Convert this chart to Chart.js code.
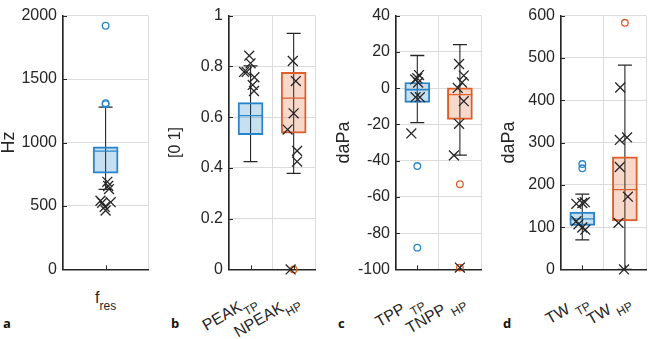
<!DOCTYPE html>
<html>
<head>
<meta charset="utf-8">
<script src="https://cdn.jsdelivr.net/npm/chart.js@4.4.1/dist/chart.umd.min.js"></script>
<style>
  body { margin: 0; background: #fff; width: 661px; height: 339px; overflow: hidden; position: relative;
         font-family: "Liberation Sans", Arial, sans-serif; color: #262626; }
  canvas { position: absolute; top: 0; }
  .xl { position: absolute; font-size: 16px; line-height: 16px; white-space: nowrap; }
  .xl sub { font-size: 12px; vertical-align: -7px; line-height: 0; }
  .rot { transform-origin: 100% 0; transform: rotate(-30deg); }
  .tag { position: absolute; top: 314px; font: bold 13px "Open Sans", sans-serif; color: #111; }
</style>
</head>
<body>
<canvas id="pa" width="162" height="285"></canvas>
<canvas id="pb" width="164" height="285"></canvas>
<canvas id="pc" width="165" height="285"></canvas>
<canvas id="pd" width="165" height="285"></canvas>
<div class="tag" style="left:3px">a</div>
<div class="tag" style="left:171px">b</div>
<div class="tag" style="left:338px">c</div>
<div class="tag" style="left:503px">d</div>

<script>
// a: resonance frequency
const aNames = [['f', 'res']];
const aLow = [630], aQ1 = [758], aMed = [932], aQ3 = [966], aHigh = [1278];
const aOutliers = [[1, 1920], [1, 1310], [1, 1302]];
const aPoints = [[1.02, 690], [1.03, 657], [1.04, 633], [0.94, 541], [0.96, 525],
                 [1.06, 530], [0.99, 493], [1.0, 464]];
const aTicks = [0, 500, 1000, 1500, 2000];

// b: peak values
const bNames = [['PEAK', 'TP'], ['NPEAK', 'HP']];
const bLow = [0.425, 0.378], bQ1 = [0.531, 0.537], bMed = [0.606, 0.675], bQ3 = [0.657, 0.776], bHigh = [0.802, 0.930];
const bOutliers = [[2, 0]];
const bPoints = [[0.97, 0.842], [1.0, 0.812], [0.85, 0.778], [0.91, 0.778], [1.09, 0.757], [1.05, 0.727], [1.08, 0.703],
                 [1.98, 0.821], [2.05, 0.742], [2.0, 0.615], [1.86, 0.551], [2.08, 0.467], [2.08, 0.425], [1.93, 0]];
const bTicks = [0, 0.2, 0.4, 0.6, 0.8, 1];

// c: peak pressure
const cNames = [['TPP ', 'TP'], ['TNPP ', 'HP']];
const cLow = [-19, -37], cQ1 = [-7.9, -17.2], cMed = [-0.9, -3.6], cQ3 = [3.1, 0.1], cHigh = [18, 24];
const cOutliers = [[1, -43], [1, -88], [2, -53], [2, -99]];
const cPoints = [[1.04, 7.2], [1.0, 5.5], [0.95, 4.8], [1.02, 3.1], [0.96, -5], [1.06, -5], [0.86, -25],
                 [1.98, 13.3], [2.09, 6.9], [2.05, 3.1], [1.95, 0.1], [2.09, -7.2], [1.98, -19.7], [1.86, -37.1], [2.0, -99]];
const cTicks = [-100, -80, -60, -40, -20, 0, 20, 40];

// d: tympanometric width
const dNames = [['TW ', 'TP'], ['TW ', 'HP']];
const dLow = [70, 0], dQ1 = [104, 114.5], dMed = [119.5, 188.5], dQ3 = [135.5, 266], dHigh = [178, 483];
const dOutliers = [[1, 249], [1, 239], [2, 583]];
const dPoints = [[0.86, 155], [1.0, 157], [1.06, 159], [0.86, 114], [0.91, 106.5], [1.0, 99], [1.07, 94],
                 [1.89, 430], [2.05, 312], [1.88, 306], [1.88, 242], [2.07, 172], [1.85, 110], [1.98, 0]];
const dTicks = [0, 100, 200, 300, 400, 500, 600];

const INK = '#262626';
const GRID = '#dcdcdc';
const FONT = '"Liberation Sans", Arial, sans-serif';
const EDGE = ['#2a86cc', '#de5f2a'];
const FILL = ['rgba(0,114,189,0.22)', 'rgba(217,83,25,0.22)'];

// small inward tick marks like the original axes
const inwardTicks = {
    id: 'inwardTicks',
    afterDraw(chart) {
        const ctx = chart.ctx, area = chart.chartArea;
        const x = chart.scales.x, y = chart.scales.y;
        ctx.save();
        ctx.strokeStyle = INK;
        ctx.lineWidth = 1;
        ctx.beginPath();
        y.ticks.forEach(t => {
            const py = Math.round(y.getPixelForValue(t.value)) + 0.5;
            ctx.moveTo(area.left, py);
            ctx.lineTo(area.left + 4, py);
        });
        x.ticks.forEach(t => {
            const px = Math.round(x.getPixelForValue(t.value)) + 0.5;
            ctx.moveTo(px, area.bottom);
            ctx.lineTo(px, area.bottom - 4);
        });
        ctx.stroke();
        ctx.restore();
    }
};

function drawPanel(p) {
    const n = p.names.length;
    const canvas = document.getElementById(p.id);
    canvas.style.left = p.left + 'px';
    const padLeft = Math.max(0, p.titleX - p.titleSize / 2 - p.left);

    const whiskers = p.low.map((v, i) => ({
        type: 'line',
        data: [{ x: i + 1, y: v }, { x: i + 1, y: p.high[i] }],
        borderColor: INK,
        borderWidth: 1.1,
        pointStyle: 'line',
        pointRadius: 7,
        pointBorderColor: INK,
        pointBorderWidth: 1.3,
        order: 5
    }));

    const chart = new Chart(canvas, {
        type: 'bar',
        data: {
            datasets: [
                {
                    type: 'scatter',
                    data: p.points.map(q => ({ x: q[0], y: q[1] })),
                    pointStyle: 'crossRot',
                    pointRadius: 7,
                    pointBorderColor: INK,
                    pointBorderWidth: 1.3,
                    clip: false,
                    order: 1
                },
                {
                    type: 'scatter',
                    data: p.outliers.map(q => ({ x: q[0], y: q[1] })),
                    pointStyle: 'circle',
                    pointRadius: 3.3,
                    pointBorderColor: p.outliers.map(q => EDGE[Math.round(q[0]) - 1]),
                    pointBackgroundColor: 'rgba(0,0,0,0)',
                    pointBorderWidth: 1.3,
                    clip: false,
                    order: 2
                },
                {
                    type: 'scatter',
                    data: p.med.map((v, i) => ({ x: i + 1, y: v })),
                    pointStyle: 'line',
                    pointRadius: 12.5,
                    pointBorderColor: EDGE,
                    pointBorderWidth: 1.3,
                    order: 3
                },
                {
                    type: 'bar',
                    data: p.q1.map((v, i) => ({ x: i + 1, y: [v, p.q3[i]] })),
                    backgroundColor: FILL,
                    borderColor: EDGE,
                    borderWidth: 1.3,
                    borderSkipped: false,
                    barThickness: 25,
                    order: 4
                },
                ...whiskers
            ]
        },
        options: {
            responsive: false,
            animation: false,
            devicePixelRatio: 1,
            layout: { padding: { left: padLeft, top: 8, right: 2, bottom: 1 } },
            plugins: { legend: { display: false }, tooltip: { enabled: false } },
            scales: {
                x: {
                    type: 'linear',
                    min: 0.5,
                    max: n + 0.5,
                    offset: false,
                    afterBuildTicks: s => { s.ticks = p.names.map((_, i) => ({ value: i + 1 })); },
                    afterFit: s => { s.height = 0; },
                    grid: { color: GRID, lineWidth: 1, drawTicks: false },
                    border: { color: INK, width: 1.6 },
                    ticks: { display: false }
                },
                y: {
                    min: p.ticks[0],
                    max: p.ticks[p.ticks.length - 1],
                    afterBuildTicks: s => { s.ticks = p.ticks.map(v => ({ value: v })); },
                    afterFit: s => { s.width = p.axisX - p.left - padLeft; },
                    grid: { color: GRID, lineWidth: 1, drawTicks: false },
                    border: { color: INK, width: 1.6 },
                    ticks: { color: INK, font: { family: FONT, size: 16 }, padding: 6, callback: v => String(v) },
                    title: { display: true, text: p.title, color: INK,
                             font: { family: FONT, size: p.titleSize, lineHeight: 1 }, padding: 0 }
                }
            }
        },
        plugins: [inwardTicks]
    });

    // category labels with subscripts, placed from the x scale
    p.names.forEach((nm, i) => {
        const px = p.left + chart.scales.x.getPixelForValue(i + 1);
        const div = document.createElement('div');
        div.className = 'xl';
        div.innerHTML = nm[0] + '<sub>' + nm[1] + '</sub>';
        document.body.appendChild(div);
        if (p.rotate) {
            div.classList.add('rot');
            div.style.right = (661 - px + 1) + 'px';
            div.style.top = '291px';
        } else {
            div.style.left = (px - div.offsetWidth / 2) + 'px';
            div.style.top = '290px';
        }
    });
}

drawPanel({ id: 'pa', left: 0, axisX: 63, titleX: 8, title: 'Hz', titleSize: 18, rotate: false,
            names: aNames, low: aLow, q1: aQ1, med: aMed, q3: aQ3, high: aHigh,
            outliers: aOutliers, points: aPoints, ticks: aTicks });
drawPanel({ id: 'pb', left: 165, axisX: 229, titleX: 176, title: '[0 1]', titleSize: 16, rotate: true,
            names: bNames, low: bLow, q1: bQ1, med: bMed, q3: bQ3, high: bHigh,
            outliers: bOutliers, points: bPoints, ticks: bTicks });
drawPanel({ id: 'pc', left: 330, axisX: 396, titleX: 344, title: 'daPa', titleSize: 18, rotate: true,
            names: cNames, low: cLow, q1: cQ1, med: cMed, q3: cQ3, high: cHigh,
            outliers: cOutliers, points: cPoints, ticks: cTicks });
drawPanel({ id: 'pd', left: 495, axisX: 561, titleX: 509, title: 'daPa', titleSize: 18, rotate: true,
            names: dNames, low: dLow, q1: dQ1, med: dMed, q3: dQ3, high: dHigh,
            outliers: dOutliers, points: dPoints, ticks: dTicks });
</script>
</body>
</html>
